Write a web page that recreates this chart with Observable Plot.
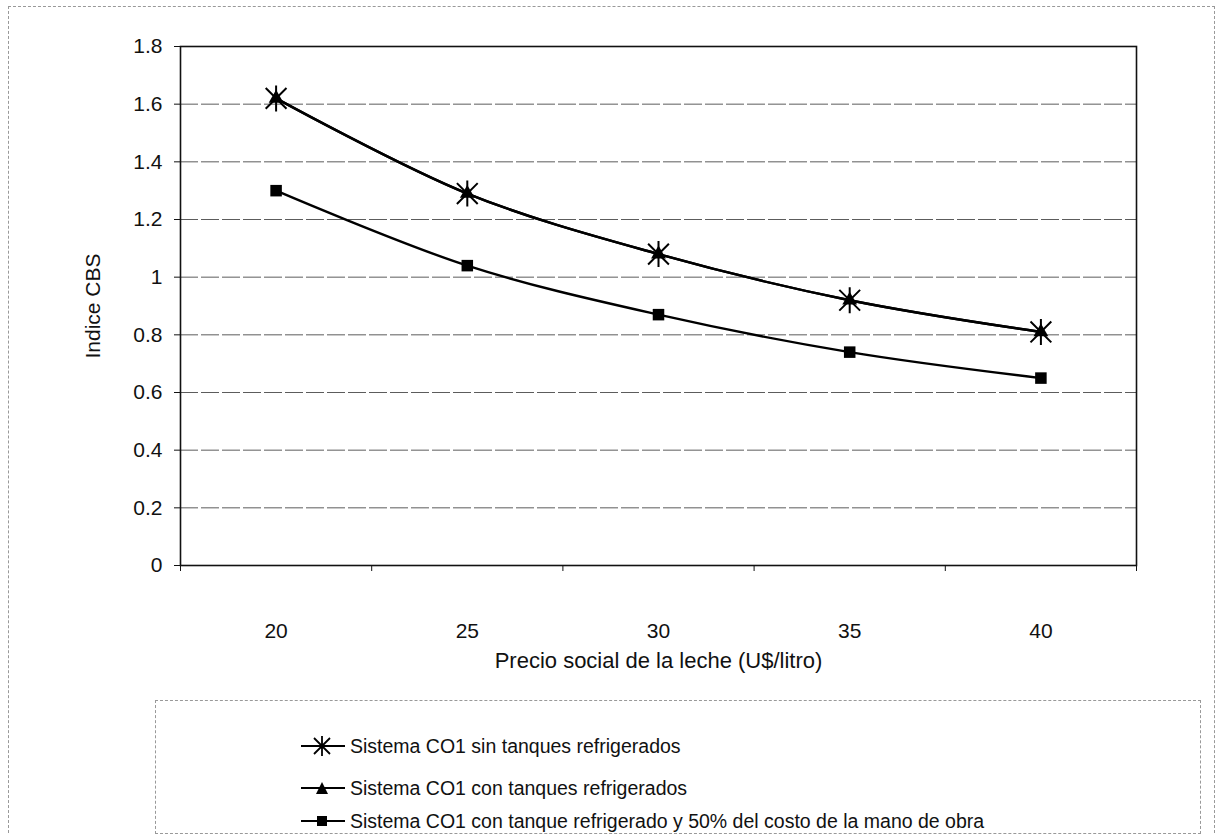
<!DOCTYPE html>
<html><head><meta charset="utf-8">
<script src="https://cdn.jsdelivr.net/npm/d3@7"></script>
<script src="https://cdn.jsdelivr.net/npm/@observablehq/plot@0.6"></script>
<style>
body{margin:0;background:#fff;font-family:"Liberation Sans",Arial,sans-serif;}
#wrap{position:relative;width:1220px;height:835px;overflow:hidden;background:#fff;}
#outer{position:absolute;left:8px;top:6px;width:1205px;height:840px;border:1px dashed #999;}
#chart{position:absolute;left:0;top:0;}
#legend{position:absolute;left:155px;top:700px;width:1044px;height:132px;border:1px dashed #999;}
.item{position:absolute;left:145px;display:flex;align-items:center;font-size:19.5px;color:#111;height:24px;line-height:24px;}
.item svg{margin-right:5px;}
</style></head>
<body><div id="wrap"><div id="outer"></div><div id="chart"></div><div id="legend"></div></div>
<script>
const categories = [20, 25, 30, 35, 40];
const sinTanques = [1.62, 1.29, 1.08, 0.92, 0.81];
const conTanques = [1.62, 1.29, 1.08, 0.92, 0.81];
const conTanque50 = [1.30, 1.04, 0.87, 0.74, 0.65];
const seriesNames = [
  "Sistema CO1 sin tanques refrigerados",
  "Sistema CO1 con tanques refrigerados",
  "Sistema CO1 con tanque refrigerado y 50% del costo de la mano de obra"
];
const yTicks = [0, 0.2, 0.4, 0.6, 0.8, 1, 1.2, 1.4, 1.6, 1.8];
const xLabel = "Precio social de la leche (U$/litro)";
const yLabel = "Indice CBS";

const seriesValues = [sinTanques, conTanques, conTanque50];
const data = [];
seriesValues.forEach((vals, si) => vals.forEach((v, i) => data.push({x: categories[i], y: v, series: seriesNames[si]})));

const step = categories[1] - categories[0];
const xDomain = [categories[0] - step / 2, categories[categories.length - 1] + step / 2];
const boundaries = d3.range(xDomain[0], xDomain[1] + step / 2, step);

const excelStar = {
  draw(ctx, size) {
    const r = Math.sqrt(size / Math.PI);
    const d = r * 0.8;
    ctx.moveTo(-d, -d); ctx.lineTo(d, d);
    ctx.moveTo(-d, d); ctx.lineTo(d, -d);
    ctx.moveTo(0, -r); ctx.lineTo(0, r);
  }
};

const chart = Plot.plot({
  width: 1220,
  height: 690,
  marginLeft: 180,
  marginRight: 84,
  marginTop: 46,
  marginBottom: 125,
  style: {fontFamily: '"Liberation Sans", Arial, sans-serif', fontSize: "21px", color: "#111", background: "transparent", overflow: "visible"},
  x: {domain: xDomain},
  y: {domain: [0, 1.8]},
  marks: [
    Plot.gridY(yTicks, {stroke: "#333", strokeOpacity: 0.8, strokeDasharray: "18,3"}),
    Plot.frame({stroke: "#111", strokeWidth: 1.6}),
    Plot.axisY(yTicks, {tickSize: 6, tickPadding: 12, tickFormat: d => String(d), label: yLabel, labelAnchor: "center", labelArrow: "none", labelOffset: 95}),
    Plot.axisX(categories, {tickSize: 0, tickPadding: 58, tickFormat: d => String(d), label: null}),
    Plot.text([xLabel], {text: d => d, frameAnchor: "bottom", lineAnchor: "middle", dy: 95, fontSize: 22, letterSpacing: "0.5px", fill: "#111"}),
    Plot.axisX(boundaries, {tickSize: 6, tickFormat: () => "", label: null}),
    Plot.line(data, {x: "x", y: "y", z: "series", curve: "catmull-rom", stroke: "#000", strokeWidth: 2.4}),
    Plot.dot(data.filter(d => d.series === seriesNames[0]), {x: "x", y: "y", symbol: excelStar, r: 13, stroke: "#000", strokeWidth: 2}),
    Plot.dot(data.filter(d => d.series === seriesNames[1]), {x: "x", y: "y", symbol: "triangle", r: 5.5, fill: "#000"}),
    Plot.dot(data.filter(d => d.series === seriesNames[2]), {x: "x", y: "y", symbol: "square", r: 6.5, fill: "#000"})
  ]
});
document.getElementById("chart").appendChild(chart);

// Legend
const legend = document.getElementById("legend");
const markerSvg = [
  '<path d="M13,1 L29,17 M13,17 L29,1 M21,-1 L21,19" stroke="#000" stroke-width="1.8" fill="none"/>',
  '<path d="M21,3 L27,15 L15,15 Z" fill="#000"/>',
  '<rect x="16" y="4" width="10" height="10" fill="#000"/>'
];
const legendTops = [33, 75, 108];
seriesNames.forEach((name, i) => {
  const div = document.createElement("div");
  div.className = "item";
  div.style.top = legendTops[i] + "px";
  div.innerHTML = '<svg width="44" height="18" viewBox="0 0 44 18" style="overflow:visible"><line x1="0" y1="9" x2="44" y2="9" stroke="#000" stroke-width="2"/>' + markerSvg[i] + '</svg><span>' + name + '</span>';
  legend.appendChild(div);
});
</script>
</body></html>
